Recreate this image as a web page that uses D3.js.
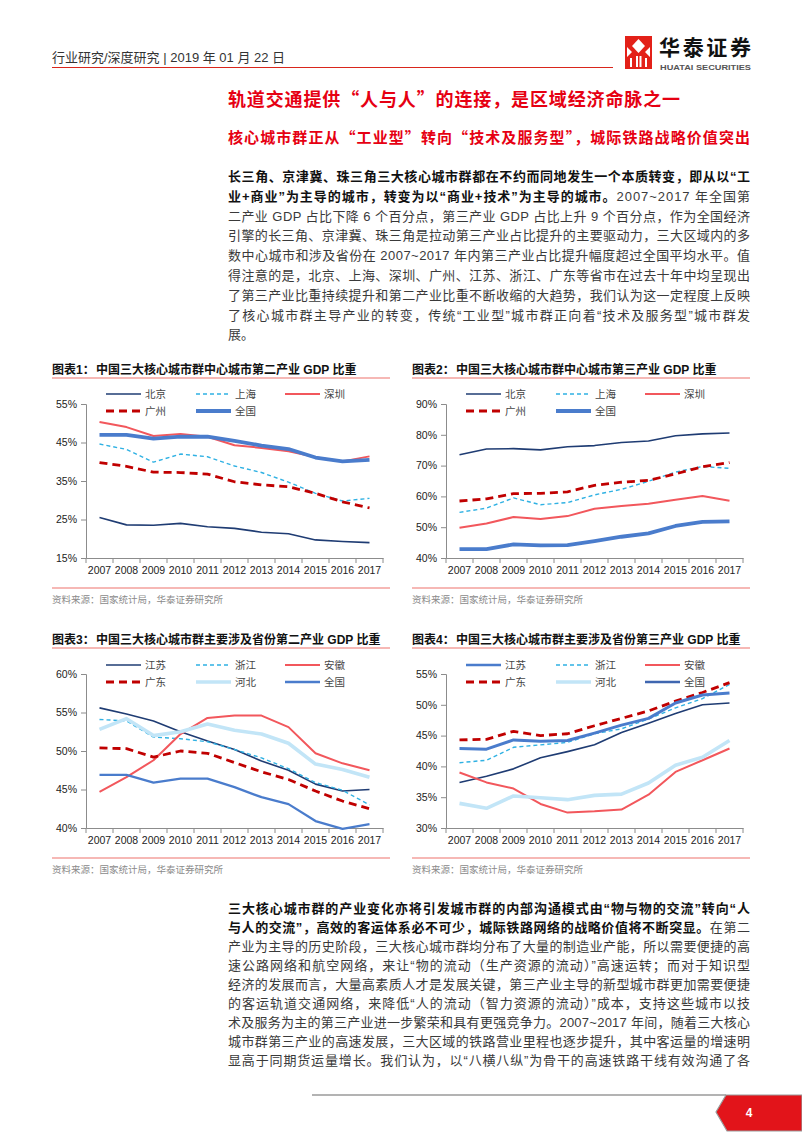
<!DOCTYPE html>
<html><head><meta charset="utf-8">
<script src="https://cdn.jsdelivr.net/npm/d3@7"></script>
<style>
body{margin:0;background:#fff;}
svg{display:block;}
</style></head><body>
<svg id="page" width="802" height="1133"></svg>
<script>
// ---------------- DATA ----------------
const years = ["2007","2008","2009","2010","2011","2012","2013","2014","2015","2016","2017"];

const c1Ticks = [15,25,35,45,55];
const c1Beijing   = [25.5,23.6,23.5,24.0,23.1,22.7,21.7,21.3,19.7,19.3,19.0];
const c1Shanghai  = [44.6,43.2,39.9,42.0,41.3,38.9,37.2,34.7,31.8,29.8,30.5];
const c1Shenzhen  = [50.3,49.0,46.7,47.2,46.5,44.3,43.6,42.7,41.2,40.1,41.4];
const c1Guangzhou = [39.8,38.8,37.3,37.2,36.8,34.8,34.0,33.5,31.8,29.6,28.0];
const c1National  = [47.0,47.0,46.0,46.5,46.5,45.4,44.2,43.3,41.1,40.1,40.5];

const c2Ticks = [40,50,60,70,80,90];
const c2Beijing   = [73.5,75.4,75.5,75.1,76.1,76.5,77.5,78.0,79.7,80.3,80.6];
const c2Shanghai  = [54.8,56.2,59.5,57.3,58.0,60.5,62.3,64.9,67.9,69.7,69.1];
const c2Shenzhen  = [49.8,51.2,53.3,52.7,53.6,56.0,56.9,57.6,58.9,60.1,58.6];
const c2Guangzhou = [58.5,59.2,60.9,61.0,61.5,63.6,64.6,65.2,67.3,69.6,71.0];
const c2National  = [42.9,42.9,44.4,44.1,44.2,45.5,46.9,48.0,50.4,51.7,51.9];

const c3Ticks = [40,45,50,55,60];
const c3Jiangsu   = [55.6,54.8,53.9,52.5,51.3,50.2,48.7,47.5,45.7,44.8,45.0];
const c3Zhejiang  = [54.1,53.9,51.8,51.6,51.2,50.2,49.1,47.7,45.9,44.9,43.0];
const c3Anhui     = [44.7,46.6,48.8,52.2,54.3,54.6,54.6,53.1,49.7,48.4,47.5];
const c3Guangdong = [50.4,50.3,49.2,50.0,49.7,48.5,47.3,46.3,44.8,43.5,42.5];
const c3Hebei     = [52.8,54.2,52.0,52.5,53.5,52.7,52.2,51.0,48.3,47.6,46.6];
const c3National  = [46.9,46.9,45.9,46.4,46.4,45.3,44.0,43.1,40.9,39.9,40.5];

const c4Ticks = [30,35,40,45,50,55];
const c4Jiangsu   = [37.4,38.4,39.6,41.4,42.4,43.5,45.5,47.0,48.6,50.0,50.3];
const c4Zhejiang  = [40.6,41.0,43.1,43.5,43.9,45.3,46.1,47.7,49.5,51.0,53.3];
const c4Anhui     = [39.0,37.4,36.4,33.9,32.5,32.7,33.0,35.4,39.1,41.0,42.9];
const c4Guangdong = [44.3,44.4,45.7,45.0,45.3,46.6,47.8,49.0,50.6,52.0,53.6];
const c4Hebei     = [34.0,33.2,35.2,34.9,34.6,35.3,35.5,37.3,40.2,41.5,44.2];
const c4National  = [42.9,42.8,44.3,44.1,44.2,45.4,46.7,47.8,50.3,51.6,51.9];

const chartTitles = [
  "中国三大核心城市群中心城市第二产业 GDP 比重",
  "中国三大核心城市群中心城市第三产业 GDP 比重",
  "中国三大核心城市群主要涉及省份第二产业 GDP 比重",
  "中国三大核心城市群主要涉及省份第三产业 GDP 比重"
];
const sourceText = "资料来源：国家统计局，华泰证券研究所";

const headerText = "行业研究/深度研究 | 2019 年 01 月 22 日";
const title1 = "轨道交通提供“人与人”的连接，是区域经济命脉之一";
const title2 = "核心城市群正从“工业型”转向“技术及服务型”，城际铁路战略价值突出";

const para1 = [
  [["b","长三角、京津冀、珠三角三大核心城市群都在不约而同地发生一个本质转变，即从以“工"]],
  [["b","业+商业”为主导的城市，转变为以“商业+技术”为主导的城市。"],["r","2007~2017 年全国第"]],
  [["r","二产业 GDP 占比下降 6 个百分点，第三产业 GDP 占比上升 9 个百分点，作为全国经济"]],
  [["r","引擎的长三角、京津冀、珠三角是拉动第三产业占比提升的主要驱动力，三大区域内的多"]],
  [["r","数中心城市和涉及省份在 2007~2017 年内第三产业占比提升幅度超过全国平均水平。值"]],
  [["r","得注意的是，北京、上海、深圳、广州、江苏、浙江、广东等省市在过去十年中均呈现出"]],
  [["r","了第三产业比重持续提升和第二产业比重不断收缩的大趋势，我们认为这一定程度上反映"]],
  [["r","了核心城市群主导产业的转变，传统“工业型”城市群正向着“技术及服务型”城市群发"]],
  [["r","展。"]]
];
const para2 = [
  [["b","三大核心城市群的产业变化亦将引发城市群的内部沟通模式由“物与物的交流”转向“人"]],
  [["b","与人的交流”，高效的客运体系必不可少，城际铁路网络的战略价值将不断突显。"],["r","在第二"]],
  [["r","产业为主导的历史阶段，三大核心城市群均分布了大量的制造业产能，所以需要便捷的高"]],
  [["r","速公路网络和航空网络，来让“物的流动（生产资源的流动）”高速运转；而对于知识型"]],
  [["r","经济的发展而言，大量高素质人才是发展关键，第三产业主导的新型城市群更加需要便捷"]],
  [["r","的客运轨道交通网络，来降低“人的流动（智力资源的流动）”成本，支持这些城市以技"]],
  [["r","术及服务为主的第三产业进一步繁荣和具有更强竞争力。2007~2017 年间，随着三大核心"]],
  [["r","城市群第三产业的高速发展，三大区域的铁路营业里程也逐步提升，其中客运量的增速明"]],
  [["r","显高于同期货运量增长。我们认为，以“八横八纵”为骨干的高速铁路干线有效沟通了各"]]
];

// ---------------- STYLES ----------------
const CJK = "'Noto Sans CJK SC', sans-serif";
const MIX = "'Liberation Sans', Arial, 'Noto Sans CJK SC', sans-serif";
const sNavy = {color:"#1f3c73", width:1.6};
const sCyan = {color:"#2fb1e3", width:1.4, dash:"4,3"};
const sPink = {color:"#f2575c", width:2};
const sDarkRed = {color:"#c00000", width:2.8, dash:"8,5"};
const sBlueThick = {color:"#4a7ccc", width:3.8};
const sBlue = {color:"#4a7ccc", width:2.3};
const sLightBlue = {color:"#c2e5f7", width:3.6};

const svg = d3.select("#page");
svg.append("rect").attr("width",802).attr("height",1133).attr("fill","#fff");

// ---------------- HEADER ----------------
svg.append("text").attr("x",52).attr("y",62).attr("font-family",MIX).attr("font-size",13)
  .attr("fill","#333").text(headerText);
svg.append("line").attr("x1",52).attr("x2",613).attr("y1",67.5).attr("y2",67.5)
  .attr("stroke","#d9261c").attr("stroke-width",1.2);
// logo
const lg = svg.append("g");
lg.append("rect").attr("x",625).attr("y",36).attr("width",27).attr("height",33).attr("fill","#e32119");
lg.append("path").attr("fill","#fff").attr("d","M638.5,39 L645,46 L638.5,53 L632,46 Z");
lg.append("path").attr("fill","#fff").attr("d","M627,47 L632,52 L627,57 Z M650,47 L645,52 L650,57 Z");
lg.append("path").attr("fill","#fff").attr("d","M630,58 h2 v9 h-2 Z M636,56 h2 v11 h-2 Z M639.5,56 h2 v11 h-2 Z M645,58 h2 v9 h-2 Z");
svg.append("text").attr("x",659).attr("y",55).attr("font-family",CJK).attr("font-weight",700)
  .attr("font-size",21).attr("fill","#111").attr("textLength",92).attr("lengthAdjust","spacing").text("华泰证券");
svg.append("text").attr("x",660).attr("y",70).attr("font-family",MIX).attr("font-weight",700)
  .attr("font-size",8).attr("fill","#555").attr("textLength",91).attr("lengthAdjust","spacingAndGlyphs")
  .text("HUATAI SECURITIES");

// ---------------- TITLES ----------------
svg.append("text").attr("x",228).attr("y",106).attr("font-family",CJK).attr("font-weight",700)
  .attr("font-size",18).attr("fill","#e60012").attr("textLength",452).attr("lengthAdjust","spacing").text(title1);
svg.append("text").attr("x",228).attr("y",143).attr("font-family",CJK).attr("font-weight",700)
  .attr("font-size",15).attr("fill","#e60012").attr("textLength",522).attr("lengthAdjust","spacing").text(title2);

// ---------------- PARAGRAPHS ----------------
function drawPara(lines, y0, dy) {
  lines.forEach((parts, i) => {
    const t = svg.append("text").attr("x",228).attr("y",y0 + i*dy)
      .attr("font-family",MIX).attr("font-size",13);
    parts.forEach(p => {
      t.append("tspan").attr("font-weight", p[0]==="b"?700:400)
        .attr("fill", p[0]==="b"?"#111":"#3a3a3a").text(p[1]);
    });
    if (i < lines.length-1 || lines[i].map(p=>p[1]).join("").length > 30) {
      t.attr("textLength",522).attr("lengthAdjust","spacing");
    }
  });
}
drawPara(para1, 181, 19.8);
drawPara(para2, 913, 19);

// ---------------- CHARTS ----------------
function drawChart(cfg) {
  const g = svg.append("g");
  const L = cfg.left, R = L + 338;
  const top = cfg.top;
  const bottom = top + 154;
  const axisX = L + 34, plotR = axisX + 297;
  const tt = g.append("text").attr("y",top-30).attr("font-family",MIX).attr("font-weight",700)
    .attr("font-size",12).attr("fill","#111");
  tt.append("tspan").attr("x",L).text(cfg.label);
  tt.append("tspan").attr("x",L+44).text(cfg.title);
  g.append("line").attr("x1",L).attr("x2",R).attr("y1",top-26).attr("y2",top-26)
    .attr("stroke","#f3a19c").attr("stroke-width",1.5);
  g.append("line").attr("x1",L).attr("x2",R).attr("y1",bottom+30).attr("y2",bottom+30)
    .attr("stroke","#f3a19c").attr("stroke-width",1.5);
  g.append("text").attr("x",L).attr("y",bottom+45).attr("font-family",CJK).attr("font-size",9.5)
    .attr("fill","#8a8a8a").text(sourceText);

  const x = d3.scaleBand().domain(years).range([axisX, plotR]).padding(0);
  const y = d3.scaleLinear().domain([cfg.ticks[0], cfg.ticks[cfg.ticks.length-1]]).range([bottom, top]);

  const yAxis = d3.axisLeft(y).tickValues(cfg.ticks).tickSize(5).tickPadding(4).tickFormat(d => d + "%");
  const ya = g.append("g").attr("transform",`translate(${axisX},0)`).call(yAxis);
  ya.select(".domain").attr("stroke","#8c8c8c");
  ya.selectAll(".tick line").attr("stroke","#8c8c8c");
  ya.selectAll(".tick text").attr("font-family",MIX).attr("font-size",10.5).attr("fill","#222");

  const xAxis = d3.axisBottom(x).tickSize(0).tickPadding(9);
  const xa = g.append("g").attr("transform",`translate(0,${bottom})`).call(xAxis);
  xa.select(".domain").attr("stroke","#8c8c8c");
  xa.selectAll(".tick text").attr("font-family",MIX).attr("font-size",10.5).attr("fill","#222");
  const bounds = years.map(d => x(d)).concat([x(years[years.length-1]) + x.bandwidth()]);
  g.selectAll(".btick").data(bounds).enter().append("line")
    .attr("x1",d=>d).attr("x2",d=>d).attr("y1",bottom).attr("y2",bottom+5).attr("stroke","#8c8c8c");

  const line = d3.line().x((d,i) => x(years[i]) + x.bandwidth()/2).y(d => y(d));
  cfg.series.forEach(s => {
    g.append("path").datum(s.values).attr("d",line).attr("fill","none")
      .attr("stroke",s.style.color).attr("stroke-width",s.style.width)
      .attr("stroke-dasharray",s.style.dash || null).attr("stroke-linejoin","round");
  });
  const cols = [20, 110, 199];
  cfg.series.forEach((s,i) => {
    const row = Math.floor(i/3), col = i%3;
    const lx = axisX + cols[col], ly = cfg.legendY + row*17;
    const ls = s.legendStyle || s.style;
    g.append("line").attr("x1",lx).attr("x2",lx+35).attr("y1",ly).attr("y2",ly)
      .attr("stroke",ls.color).attr("stroke-width",ls.width).attr("stroke-dasharray",ls.dash||null);
    g.append("text").attr("x",lx+39).attr("y",ly+4).attr("font-family",CJK).attr("font-size",10.5)
      .attr("fill","#444").text(s.name);
  });
}

drawChart({left:52, top:404, legendY:394, label:"图表1：", title:chartTitles[0], ticks:c1Ticks,
  series:[
    {name:"北京", values:c1Beijing, style:sNavy},
    {name:"上海", values:c1Shanghai, style:sCyan},
    {name:"深圳", values:c1Shenzhen, style:sPink},
    {name:"广州", values:c1Guangzhou, style:sDarkRed},
    {name:"全国", values:c1National, style:sBlueThick}
  ]});
drawChart({left:412, top:404, legendY:394, label:"图表2：", title:chartTitles[1], ticks:c2Ticks,
  series:[
    {name:"北京", values:c2Beijing, style:sNavy},
    {name:"上海", values:c2Shanghai, style:sCyan},
    {name:"深圳", values:c2Shenzhen, style:sPink},
    {name:"广州", values:c2Guangzhou, style:sDarkRed},
    {name:"全国", values:c2National, style:sBlueThick}
  ]});
drawChart({left:52, top:674, legendY:665, label:"图表3：", title:chartTitles[2], ticks:c3Ticks,
  series:[
    {name:"江苏", values:c3Jiangsu, style:sNavy},
    {name:"浙江", values:c3Zhejiang, style:sCyan},
    {name:"安徽", values:c3Anhui, style:sPink},
    {name:"广东", values:c3Guangdong, style:sDarkRed},
    {name:"河北", values:c3Hebei, style:sLightBlue},
    {name:"全国", values:c3National, style:sBlue}
  ]});
drawChart({left:412, top:674, legendY:665, label:"图表4：", title:chartTitles[3], ticks:c4Ticks,
  series:[
    {name:"江苏", values:c4Jiangsu, style:sNavy, legendStyle:sBlue},
    {name:"浙江", values:c4Zhejiang, style:sCyan},
    {name:"安徽", values:c4Anhui, style:sPink},
    {name:"广东", values:c4Guangdong, style:sDarkRed},
    {name:"河北", values:c4Hebei, style:sLightBlue},
    {name:"全国", values:c4National, style:{color:"#4a7ccc", width:3}, legendStyle:{color:"#3f66b0", width:2.3}}
  ]});

// ---------------- FOOTER ----------------
svg.append("line").attr("x1",312).attr("x2",726).attr("y1",1095).attr("y2",1095)
  .attr("stroke","#9a9a9a").attr("stroke-width",1.6);
svg.append("path").attr("d","M726,1095 L802,1095 L802,1131 L727,1131 L716,1112 Z")
  .attr("fill","#e2141a").attr("stroke","#9a9a9a").attr("stroke-width",1.2);
svg.append("text").attr("x",749).attr("y",1117).attr("text-anchor","middle").attr("font-family",MIX)
  .attr("font-weight",700).attr("font-size",12).attr("fill","#fff").text("4");
</script>
</body></html>
